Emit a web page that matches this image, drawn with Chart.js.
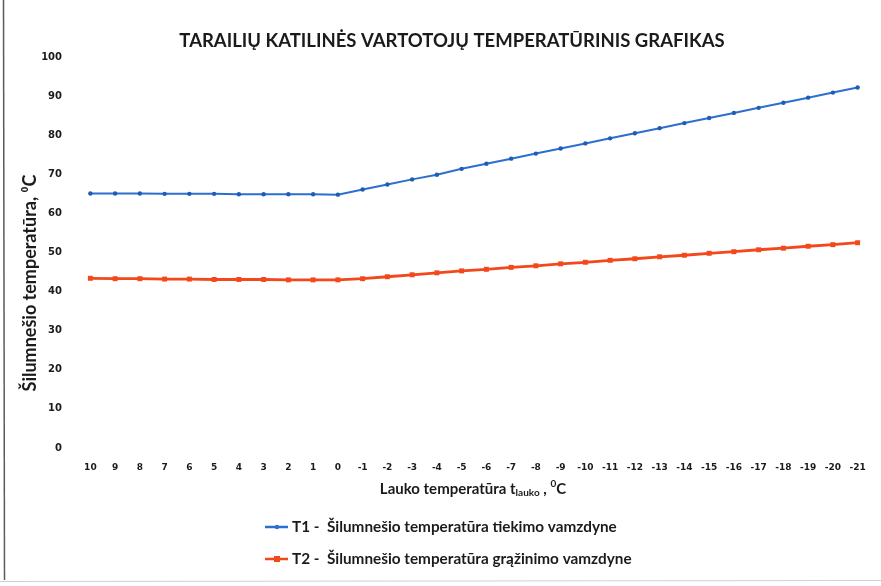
<!DOCTYPE html>
<html>
<head>
<meta charset="utf-8">
<script src="https://cdn.jsdelivr.net/npm/chart.js@4"></script>
<style>
  html, body { margin: 0; padding: 0; background: #fff; }
  #wrap { width: 881px; height: 586px; }
</style>
</head>
<body>
<div id="wrap"><canvas id="grafikas" width="881" height="586"></canvas></div>
<script>
// lauko temperatura, C
const laukoTemp = ['10', '9', '8', '7', '6', '5', '4', '3', '2', '1', '0',
  '-1', '-2', '-3', '-4', '-5', '-6', '-7', '-8', '-9', '-10', '-11', '-12',
  '-13', '-14', '-15', '-16', '-17', '-18', '-19', '-20', '-21'];
// T1 - tiekimas
const t1 = [65.1, 65.1, 65.1, 65.0, 65.0, 65.0, 64.9, 64.9, 64.9, 64.9, 64.8,
  66.1, 67.4, 68.7, 69.9, 71.4, 72.7, 74.0, 75.3, 76.6, 77.9, 79.2, 80.5,
  81.8, 83.1, 84.4, 85.7, 87.0, 88.3, 89.6, 90.9, 92.2];
// T2 - grazinimas
const t2 = [43.4, 43.3, 43.3, 43.2, 43.2, 43.1, 43.1, 43.1, 43.0, 43.0, 43.0,
  43.3, 43.8, 44.3, 44.8, 45.3, 45.7, 46.2, 46.6, 47.1, 47.5, 48.0, 48.4,
  48.9, 49.3, 49.8, 50.2, 50.7, 51.1, 51.6, 52.0, 52.5];
const yTicks = [0, 10, 20, 30, 40, 50, 60, 70, 80, 90, 100];

const pavadinimas = 'TARAILIŲ KATILINĖS VARTOTOJŲ TEMPERATŪRINIS GRAFIKAS';
const yPavadinimas = 'Šilumnešio temperatūra, ⁰C';
const pavadinimai = ['T1 -  Šilumnešio temperatūra tiekimo vamzdyne',
  'T2 -  Šilumnešio temperatūra grąžinimo vamzdyne'];
const spalvos = ['#2b6fcf', '#f2481b'];
const tekstas = '#1b1b1b';

// pavadinimai ir legenda piesiami patys
const piesimas = {
  id: 'piesimas',
  afterDraw(chart) {
    const c = chart.ctx;
    c.save();
    // skenuoto lapo krastai
    c.strokeStyle = '#5a5a5a';
    c.lineWidth = 1.5;
    c.beginPath(); c.moveTo(3.5, 0); c.lineTo(4.5, 580); c.stroke();
    c.strokeStyle = '#d0d0d0';
    c.lineWidth = 1;
    c.beginPath(); c.moveTo(0, 581.5); c.lineTo(881, 580.5); c.stroke();

    c.fillStyle = tekstas;
    c.textBaseline = 'middle';
    c.textAlign = 'center';
    c.font = 'bold 18.5px Lato';
    c.fillText(pavadinimas, 452, 41);

    // y asies pavadinimas
    c.save();
    c.translate(30, 283);
    c.rotate(-Math.PI / 2);
    c.font = 'bold 18px Lato';
    c.fillText(yPavadinimas, 0, 0);
    c.restore();

    // x asies pavadinimas su indeksu
    c.textAlign = 'left';
    const big = 'bold 15px Lato';
    const small = 'bold 10px Lato';
    const p1 = 'Lauko temperatūra t', p2 = 'lauko', p3 = ' , ', p4 = '0', p5 = 'C';
    c.font = big; const w1 = c.measureText(p1).width, w3 = c.measureText(p3).width, w5 = c.measureText(p5).width;
    c.font = small; const w2 = c.measureText(p2).width, w4 = c.measureText(p4).width;
    let x = 473 - (w1 + w2 + w3 + w4 + w5) / 2;
    const y = 489;
    c.font = big; c.fillText(p1, x, y); x += w1;
    c.font = small; c.fillText(p2, x, y + 4); x += w2;
    c.font = big; c.fillText(p3, x, y); x += w3;
    c.font = small; c.fillText(p4, x, y - 5); x += w4;
    c.font = big; c.fillText(p5, x, y);

    // legenda
    chart.data.datasets.forEach((ds, i) => {
      const lx = 265, ly = 527 + i * 32;
      c.strokeStyle = ds.borderColor;
      c.lineWidth = 2.5;
      c.beginPath(); c.moveTo(lx, ly); c.lineTo(lx + 23, ly); c.stroke();
      c.fillStyle = ds.borderColor;
      if (ds.pointStyle === 'rect') {
        c.fillRect(lx + 9, ly - 3, 6, 6);
      } else {
        c.beginPath(); c.arc(lx + 12, ly, 2.2, 0, Math.PI * 2); c.fill();
      }
      c.fillStyle = tekstas;
      c.font = 'bold 15.3px Lato';
      c.fillText(ds.label, lx + 27, ly);
    });
    c.restore();
  }
};

const ctx = document.getElementById('grafikas').getContext('2d');
const grafikas = new Chart(ctx, {
  type: 'line',
  data: {
    labels: laukoTemp,
    datasets: [{
      label: pavadinimai[0],
      data: t1,
      borderColor: spalvos[0],
      backgroundColor: '#1f5cb5',
      borderWidth: 2,
      pointStyle: 'circle',
      pointRadius: 2.2,
      pointBorderWidth: 0,
      tension: 0
    }, {
      label: pavadinimai[1],
      data: t2,
      borderColor: spalvos[1],
      backgroundColor: spalvos[1],
      borderWidth: 2.8,
      pointStyle: 'rect',
      pointRadius: 3.5,
      pointBorderWidth: 0,
      tension: 0
    }]
  },
  options: {
    responsive: false,
    animation: false,
    layout: { padding: { left: 0, right: 11, top: 57, bottom: 0 } },
    plugins: {
      legend: { display: false },
      tooltip: { enabled: false },
      title: { display: false }
    },
    scales: {
      x: {
        offset: true,
        grid: { display: false, drawTicks: false },
        border: { display: false },
        ticks: {
          color: tekstas,
          font: { family: 'DejaVu Sans', size: 9, weight: 'bold' },
          padding: 14,
          maxRotation: 0,
          autoSkip: false
        },
        afterFit(scale) { scale.height = 138; }
      },
      y: {
        min: 0,
        max: 100,
        afterBuildTicks(scale) { scale.ticks = yTicks.map(v => ({ value: v })); },
        grid: { display: false, drawTicks: false },
        border: { display: false },
        ticks: {
          color: tekstas,
          font: { family: 'DejaVu Sans', size: 10, weight: 'bold' },
          padding: 16
        },
        afterFit(scale) { scale.width = 78; }
      }
    }
  },
  plugins: [piesimas]
});
</script>
</body>
</html>
